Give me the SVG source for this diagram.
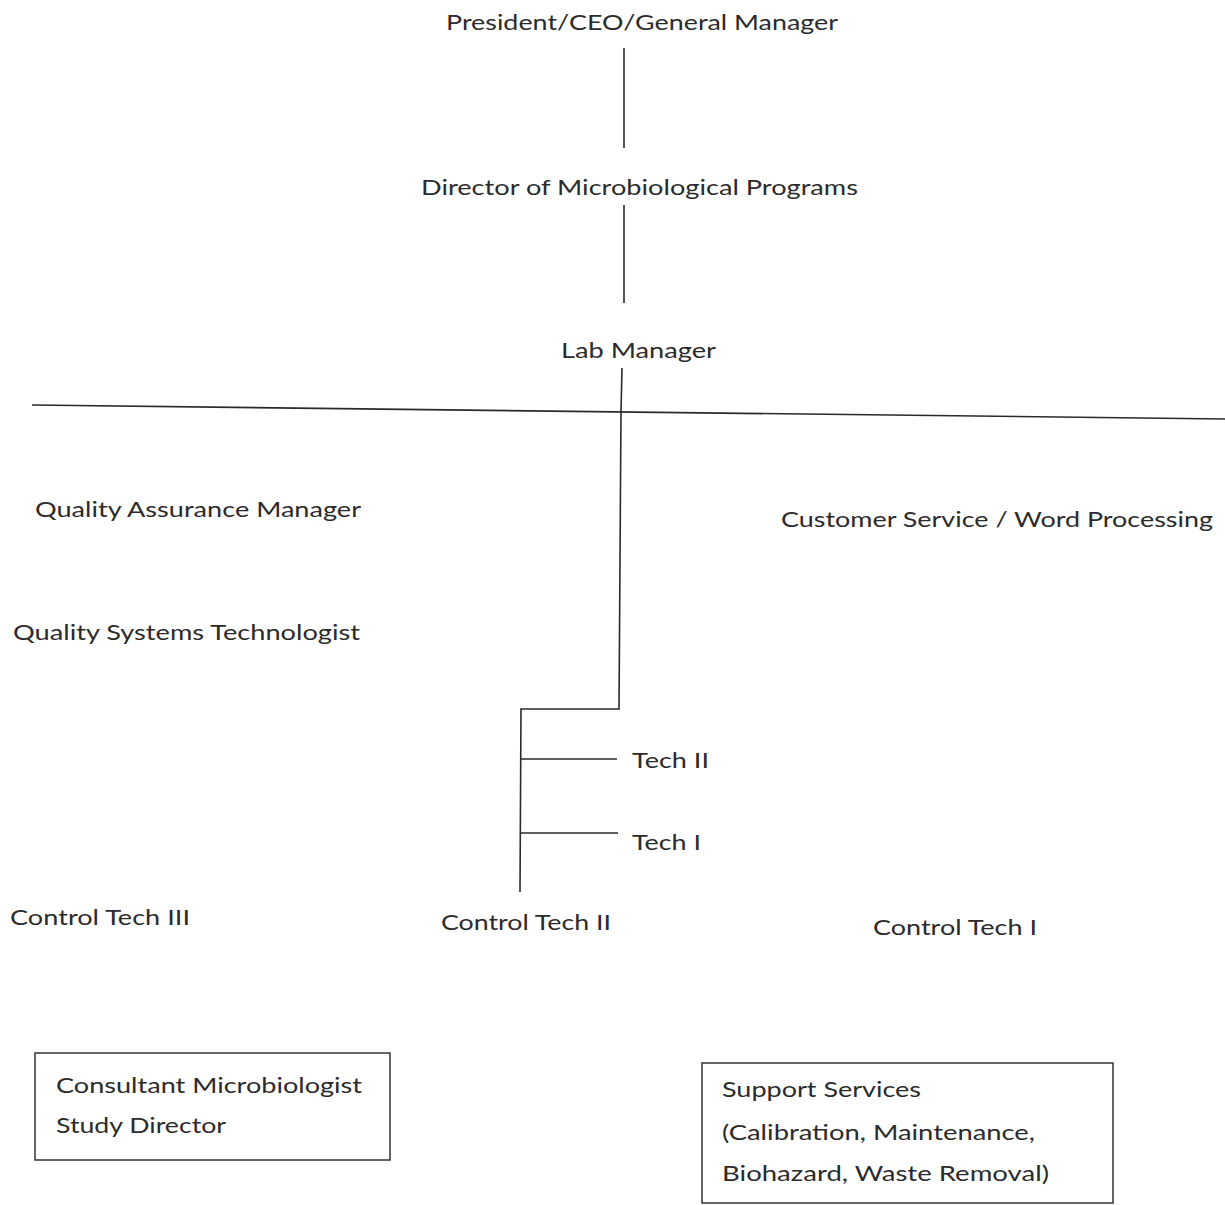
<svg xmlns="http://www.w3.org/2000/svg" width="1225" height="1205" viewBox="0 0 1225 1205">
<style>
text{font-family:Lato,"Open Sans","Liberation Sans",sans-serif;font-size:22px;fill:#2b2b2b}
.ln{stroke:#2a2a2a;stroke-width:1.6;fill:none}
.box{stroke:#333;stroke-width:1.5;fill:none}
</style>
<rect width="1225" height="1205" fill="#fff"/>
<g id="connectors">
<line class="ln" x1="624" y1="48" x2="624" y2="148"/>
<line class="ln" x1="624" y1="205" x2="624" y2="303"/>
<line class="ln" x1="32" y1="405" x2="1225" y2="419" stroke-width="2"/>
<polyline class="ln" points="622,368 621,412 619,709 521,709 520,892"/>
<line class="ln" x1="521" y1="759" x2="617" y2="759"/>
<line class="ln" x1="521" y1="833" x2="618" y2="833"/>
</g>
<g id="president"><text x="446" y="30" textLength="392" lengthAdjust="spacingAndGlyphs">President/CEO/General Manager</text></g>
<g id="director"><text x="421" y="195" textLength="437" lengthAdjust="spacingAndGlyphs">Director of Microbiological Programs</text></g>
<g id="labmanager"><text x="561" y="358" textLength="155" lengthAdjust="spacingAndGlyphs">Lab Manager</text></g>
<g id="qam"><text x="35" y="517" textLength="326" lengthAdjust="spacingAndGlyphs">Quality Assurance Manager</text></g>
<g id="customer"><text x="781" y="527" textLength="432" lengthAdjust="spacingAndGlyphs">Customer Service / Word Processing</text></g>
<g id="qst"><text x="13" y="640" textLength="347" lengthAdjust="spacingAndGlyphs">Quality Systems Technologist</text></g>
<g id="tech2"><text x="632" y="768" textLength="77" lengthAdjust="spacingAndGlyphs">Tech II</text></g>
<g id="tech1"><text x="632" y="850" textLength="69" lengthAdjust="spacingAndGlyphs">Tech I</text></g>
<g id="ct3"><text x="10" y="925" textLength="180" lengthAdjust="spacingAndGlyphs">Control Tech III</text></g>
<g id="ct2"><text x="441" y="930" textLength="170" lengthAdjust="spacingAndGlyphs">Control Tech II</text></g>
<g id="ct1"><text x="873" y="935" textLength="164" lengthAdjust="spacingAndGlyphs">Control Tech I</text></g>
<g id="consultant">
<rect class="box" x="35" y="1053" width="355" height="107"/>
<text x="56" y="1093" textLength="306" lengthAdjust="spacingAndGlyphs">Consultant Microbiologist</text>
<text x="56" y="1133" textLength="170" lengthAdjust="spacingAndGlyphs">Study Director</text>
</g>
<g id="support">
<rect class="box" x="702" y="1063" width="411" height="140"/>
<text x="722" y="1097" textLength="199" lengthAdjust="spacingAndGlyphs">Support Services</text>
<text x="722" y="1140" textLength="313" lengthAdjust="spacingAndGlyphs">(Calibration, Maintenance,</text>
<text x="722" y="1181" textLength="327" lengthAdjust="spacingAndGlyphs">Biohazard, Waste Removal)</text>
</g>
</svg>
